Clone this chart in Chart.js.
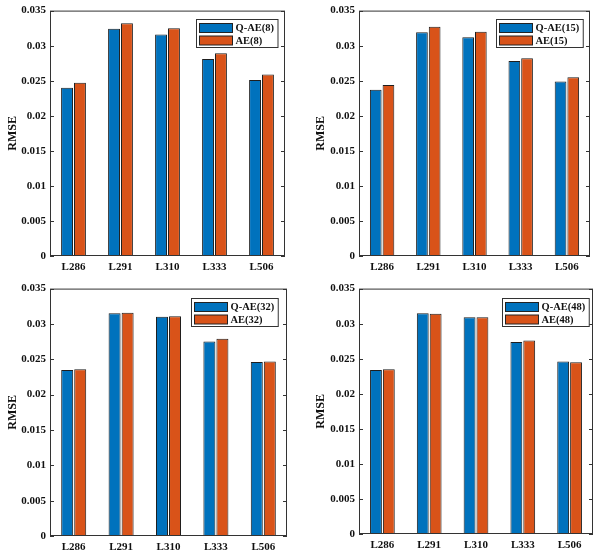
<!DOCTYPE html>
<html>
<head>
<meta charset="utf-8">
<script src="https://cdn.jsdelivr.net/npm/chart.js@4"></script>
<style>
  body { margin: 0; background: #fff; }
  #wrap { position: relative; width: 600px; height: 555px; }
  canvas { position: absolute; }
</style>
</head>
<body>
<div id="wrap"></div>
<script>
const categories = ['L286', 'L291', 'L310', 'L333', 'L506'];
const yTickLabels = ['0', '0.005', '0.01', '0.015', '0.02', '0.025', '0.03', '0.035'];

const qae8 = [0.0240, 0.0324, 0.0316, 0.0281, 0.0251];
const ae8 = [0.0247, 0.0332, 0.0325, 0.0289, 0.0259];
const qae15 = [0.0237, 0.0319, 0.0312, 0.0278, 0.0249];
const ae15 = [0.0244, 0.0327, 0.0320, 0.0282, 0.0255];
const qae32 = [0.0235, 0.0315, 0.0310, 0.0275, 0.0246];
const ae32 = [0.0236, 0.0316, 0.0311, 0.0279, 0.0247];
const qae48 = [0.0234, 0.0315, 0.0309, 0.0274, 0.0246];
const ae48 = [0.0235, 0.0314, 0.0309, 0.0276, 0.0245];

const BLUE = '#0072BD';
const ORANGE = '#D95319';
const FONT = '"Liberation Serif", "Times New Roman", serif';

// frame box + inward ticks (matlab style)
const frame = {
  id: 'frame',
  afterDatasetsDraw(chart) {
    const ctx = chart.ctx, a = chart.chartArea, ys = chart.scales.y;
    ctx.save();
    ctx.strokeStyle = '#333';
    ctx.lineWidth = 1;
    ctx.strokeRect(a.left + 0.5, a.top + 0.5, a.right - a.left - 1, a.bottom - a.top - 1);
    ctx.beginPath();
    ys.ticks.forEach(t => {
      const y = Math.round(ys.getPixelForValue(t.value)) + 0.5;
      ctx.moveTo(a.left, y); ctx.lineTo(a.left + 4, y);
      ctx.moveTo(a.right, y); ctx.lineTo(a.right - 4, y);
    });
    ctx.stroke();
    ctx.restore();
  }
};

const boxLegend = {
  id: 'boxLegend',
  afterDraw(chart, args, opts) {
    const ctx = chart.ctx, a = chart.chartArea;
    const ds = chart.data.datasets;
    ctx.save();
    ctx.font = 'bold 10.5px ' + FONT;
    const tw = Math.max(...ds.map(d => ctx.measureText(d.label).width));
    const w = 3 + 33 + 3 + tw + 4;
    const h = 28;
    const x = Math.round(a.right - opts.right - w) + 0.5;
    const y = Math.round(a.top + opts.top) + 0.5;
    ctx.fillStyle = '#fff';
    ctx.fillRect(x, y, w, h);
    ctx.strokeStyle = '#333';
    ctx.lineWidth = 1;
    ctx.strokeRect(x, y, w, h);
    ds.forEach((d, i) => {
      const ry = y + 4 + i * 12.5;
      ctx.fillStyle = d.backgroundColor;
      ctx.fillRect(x + 3, ry, 33, 9);
      ctx.strokeStyle = '#222';
      ctx.strokeRect(x + 3, ry, 33, 9);
      ctx.fillStyle = '#111';
      ctx.textBaseline = 'middle';
      ctx.fillText(d.label, x + 39, ry + 5);
    });
    ctx.restore();
  }
};

const panels = [
  { left: 0, top: 0, w: 300, h: 278, q: qae8, a: ae8, n: '8',
    pad: { left: 6, top: 7, right: 15, bottom: 0 }, yw: 44, xh: 22, lg: { right: 8, top: 8 } },
  { left: 300, top: 0, w: 300, h: 278, q: qae15, a: ae15, n: '15',
    pad: { left: 14, top: 7, right: 10, bottom: 0 }, yw: 45, xh: 22, lg: { right: 7, top: 8 } },
  { left: 0, top: 278, w: 300, h: 277, q: qae32, a: ae32, n: '32',
    pad: { left: 6, top: 10, right: 13, bottom: 0 }, yw: 44, xh: 19, lg: { right: 9, top: 9 } },
  { left: 300, top: 278, w: 300, h: 277, q: qae48, a: ae48, n: '48',
    pad: { left: 14, top: 9, right: 7, bottom: 0 }, yw: 45, xh: 21, lg: { right: 4, top: 9 } }
];

const wrap = document.getElementById('wrap');

panels.forEach(p => {
  const cv = document.createElement('canvas');
  cv.width = p.w; cv.height = p.h;
  cv.style.left = p.left + 'px'; cv.style.top = p.top + 'px';
  cv.style.width = p.w + 'px'; cv.style.height = p.h + 'px';
  wrap.appendChild(cv);

  new Chart(cv.getContext('2d'), {
    type: 'bar',
    data: {
      labels: categories,
      datasets: [
        { label: 'Q-AE(' + p.n + ')', data: p.q, backgroundColor: BLUE },
        { label: 'AE(' + p.n + ')', data: p.a, backgroundColor: ORANGE }
      ]
    },
    options: {
      responsive: false,
      animation: false,
      devicePixelRatio: 1,
      layout: { padding: p.pad },
      datasets: {
        bar: {
          categoryPercentage: 0.55,
          barPercentage: 0.92,
          borderColor: '#1e1e1e',
          borderWidth: 1,
          borderSkipped: false
        }
      },
      plugins: {
        legend: { display: false },
        tooltip: { enabled: false },
        boxLegend: p.lg
      },
      scales: {
        x: {
          grid: { display: false, drawTicks: false },
          border: { display: false },
          ticks: { color: '#111', font: { family: FONT, size: 11, weight: 'bold' }, padding: 5, maxRotation: 0 },
          afterFit: s => { s.height = p.xh; }
        },
        y: {
          min: 0, max: 0.035,
          grid: { display: false, drawTicks: false },
          border: { display: false },
          ticks: {
            stepSize: 0.005,
            color: '#111',
            font: { family: FONT, size: 11, weight: 'bold' },
            padding: 4,
            callback: (v, i) => yTickLabels[i]
          },
          title: {
            display: true, text: 'RMSE', color: '#111',
            font: { family: FONT, size: 12, weight: 'bold' },
            padding: 0
          },
          afterFit: s => { s.width = p.yw; }
        }
      }
    },
    plugins: [frame, boxLegend]
  });
});
</script>
</body>
</html>
